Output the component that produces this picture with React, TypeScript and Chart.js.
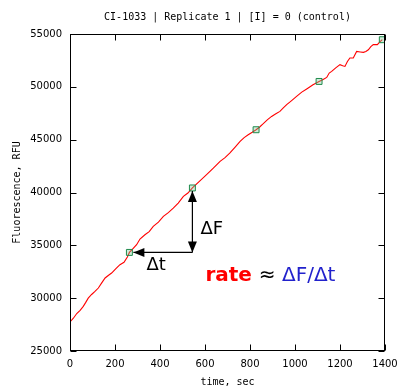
import React, { useEffect, useRef } from "react";
import { Chart, registerables } from "chart.js";

Chart.register(...registerables);

const TITLE = "CI-1033 | Replicate 1 | [I] = 0 (control)";
const X_LABEL = "time, sec";
const Y_LABEL = "Fluorescence, RFU";

const timeSec = [
  0, 15, 30, 45, 59, 70, 81, 96, 111, 126, 141, 156, 170, 185, 204, 222, 240, 255, 264, 280,
  296, 311, 333, 352, 370, 393, 415, 437, 459, 481, 504, 524, 544, 575, 607, 637, 667, 689,
  711, 734, 756, 774, 792, 810, 827, 843, 859, 878, 896, 915, 933, 948, 963, 985, 1007, 1030,
  1052, 1080, 1107, 1125, 1141, 1152, 1163, 1181, 1200, 1212, 1222, 1233, 1244, 1259, 1274,
  1290, 1304, 1315, 1326, 1337, 1348, 1366, 1377, 1388,
];
const fluorescence = [
  27750, 28100, 28550, 28850, 29220, 29600, 30000, 30350, 30640, 30960, 31450, 31910, 32150,
  32380, 32800, 33170, 33400, 33900, 34330, 34700, 35060, 35600, 36000, 36300, 36790, 37200,
  37740, 38100, 38530, 39000, 39630, 39950, 40430, 41050, 41690, 42300, 42940, 43300, 43740,
  44300, 44840, 45200, 45470, 45700, 45940, 46200, 46510, 46900, 47200, 47450, 47680, 48000,
  48310, 48700, 49100, 49500, 49800, 50200, 50510, 50700, 50890, 51300, 51460, 51800, 52100,
  52000, 51930, 52400, 52730, 52730, 53350, 53300, 53260, 53350, 53510, 53800, 53990, 53990,
  54250, 54460,
];

const markerTime = [264, 544, 827, 1107, 1388];
const markerF = [34330, 40430, 45940, 50510, 54460];

const X_MIN = 0, X_MAX = 1400, X_STEP = 200;
const Y_MIN = 25000, Y_MAX = 55000, Y_STEP = 5000;

const annotPlugin = {
  id: "annot",
  afterDatasetsDraw(chart: any) {
    const { ctx, chartArea, scales } = chart;
    const xs = scales.x, ys = scales.y;
    ctx.save();
    // frame
    const L = Math.round(chartArea.left) + 0.5;
    const R = Math.round(chartArea.right) - 0.5;
    const T = Math.round(chartArea.top) + 0.5;
    const B = Math.round(chartArea.bottom) - 0.5;
    ctx.strokeStyle = "#000";
    ctx.lineWidth = 1;
    ctx.strokeRect(L, T, R - L, B - T);
    // inward ticks
    const tl = 6;
    ctx.beginPath();
    xs.ticks.forEach((t: any) => {
      const px = Math.round(xs.getPixelForValue(t.value)) + 0.5;
      ctx.moveTo(px, B); ctx.lineTo(px, B - tl);
      ctx.moveTo(px, T); ctx.lineTo(px, T + tl);
    });
    ys.ticks.forEach((t: any) => {
      const py = Math.round(ys.getPixelForValue(t.value)) + 0.5;
      ctx.moveTo(L, py); ctx.lineTo(L + tl, py);
      ctx.moveTo(R, py); ctx.lineTo(R - tl, py);
    });
    ctx.stroke();

    // arrows between first two markers
    const x1 = xs.getPixelForValue(markerTime[0]);
    const y1 = ys.getPixelForValue(markerF[0]);
    const x2 = xs.getPixelForValue(markerTime[1]);
    const y2 = ys.getPixelForValue(markerF[1]);
    ctx.strokeStyle = "#000";
    ctx.fillStyle = "#000";
    ctx.lineWidth = 1.2;
    ctx.beginPath();
    ctx.moveTo(x1 + 4, y1); ctx.lineTo(x2, y1);
    ctx.moveTo(x2, y1); ctx.lineTo(x2, y2 + 3);
    ctx.stroke();
    const head = (tx: number, ty: number, dx: number, dy: number) => {
      const len = 11, hw = 4.5;
      const bx = tx - dx * len, by = ty - dy * len;
      ctx.beginPath();
      ctx.moveTo(tx, ty);
      ctx.lineTo(bx - dy * hw, by + dx * hw);
      ctx.lineTo(bx + dy * hw, by - dx * hw);
      ctx.closePath();
      ctx.fill();
    };
    head(x1 + 4, y1, -1, 0);
    head(x2, y2 + 3, 0, -1);
    head(x2, y1, 0, 1);

    // labels
    ctx.textAlign = "left";
    ctx.textBaseline = "alphabetic";
    ctx.font = '18px "DejaVu Sans"';
    ctx.fillStyle = "#000";
    ctx.fillText("\u0394F", x2 + 8, (y1 + y2) / 2 + 14);
    ctx.fillText("\u0394t", x1 + 17, y1 + 18);

    let cx = x2 + 13;
    const by = y1 + 29;
    ctx.font = 'bold 20px "DejaVu Sans"';
    ctx.fillStyle = "#ff0000";
    ctx.fillText("rate", cx, by);
    cx += ctx.measureText("rate ").width;
    ctx.font = '20px "DejaVu Sans"';
    ctx.fillStyle = "#000";
    ctx.fillText("\u2248", cx, by);
    cx += ctx.measureText("\u2248 ").width;
    ctx.fillStyle = "#2222cc";
    ctx.fillText("\u0394F/\u0394t", cx, by);

    // title and axis titles
    const midX = (chartArea.left + chartArea.right) / 2;
    const midY = (chartArea.top + chartArea.bottom) / 2;
    ctx.fillStyle = "#000";
    ctx.font = '10px "DejaVu Sans Mono"';
    ctx.textAlign = "center";
    ctx.textBaseline = "middle";
    ctx.fillText(TITLE, midX, 17);
    ctx.fillText(X_LABEL, midX, 382);
    ctx.translate(17, midY);
    ctx.rotate(-Math.PI / 2);
    ctx.fillText(Y_LABEL, 0, 0);
    ctx.restore();
  },
};

const plain = (v: any) => String(v);

export default function App() {
  const ref = useRef<HTMLCanvasElement>(null);
  useEffect(() => {
    if (!ref.current) return;
    const chart = new Chart(ref.current, {
      type: "scatter",
      data: {
        datasets: [
          {
            data: markerTime.map((t, i) => ({ x: t, y: markerF[i] })),
            showLine: false,
            pointStyle: "rect",
            pointRadius: 4.2,
            borderColor: "#1f8a4c",
            borderWidth: 1,
            backgroundColor: "rgba(120,200,150,0.35)",
            order: 0,
          },
          {
            data: timeSec.map((t, i) => ({ x: t, y: fluorescence[i] })),
            showLine: true,
            pointRadius: 0,
            borderColor: "#ff0000",
            borderWidth: 1.1,
            tension: 0,
            order: 1,
          },
        ],
      },
      options: {
        responsive: false,
        animation: false,
        layout: { padding: { top: 34, right: 14, left: 0, bottom: 0 } },
        plugins: { legend: { display: false }, tooltip: { enabled: false }, title: { display: false } },
        scales: {
          x: {
            type: "linear",
            min: X_MIN,
            max: X_MAX,
            grid: { display: false, drawTicks: false },
            border: { display: false },
            ticks: { stepSize: X_STEP, padding: 7, color: "#000", font: { family: "DejaVu Sans", size: 10 }, maxRotation: 0, callback: plain },
            afterFit: (s: any) => { s.height = 39; s.paddingLeft = 0; s.paddingRight = 0; },
          },
          y: {
            type: "linear",
            min: Y_MIN,
            max: Y_MAX,
            grid: { display: false, drawTicks: false },
            border: { display: false },
            ticks: { stepSize: Y_STEP, padding: 8, color: "#000", font: { family: "DejaVu Sans", size: 10 }, callback: plain },
            afterFit: (s: any) => { s.width = 70; s.paddingTop = 0; s.paddingBottom = 0; },
          },
        },
      },
      plugins: [annotPlugin],
    });
    return () => chart.destroy();
  }, []);
  return (
    <div style={{ position: "absolute", left: 0, top: 0, width: 399, height: 390, background: "#fff" }}>
      <canvas ref={ref} width={399} height={390} />
    </div>
  );
}
